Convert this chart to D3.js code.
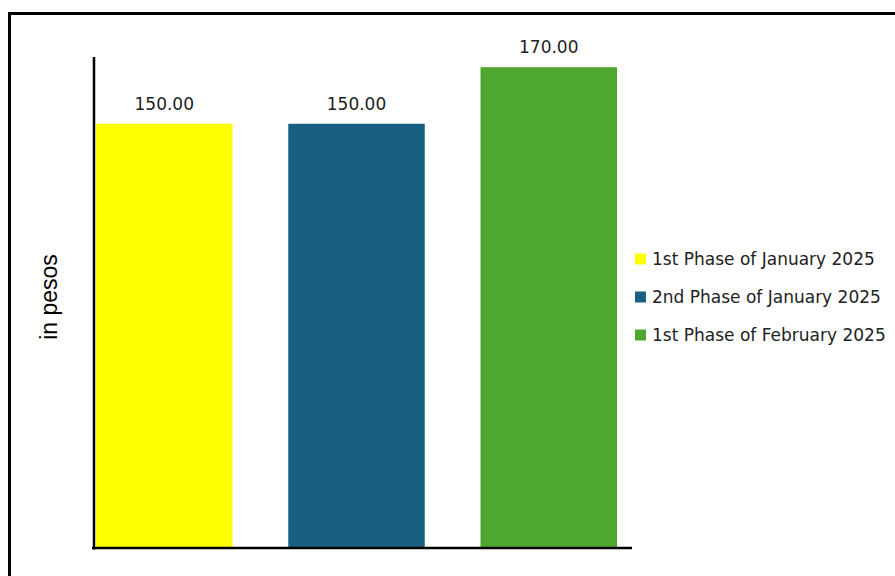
<!DOCTYPE html>
<html><head><meta charset="utf-8">
<script src="https://cdn.jsdelivr.net/npm/d3@7"></script>
<style>body{margin:0;background:#fff}svg{display:block}</style>
</head><body>
<svg id="c" width="895" height="576"></svg>
<script>
const categories = ["1st Phase of January 2025", "2nd Phase of January 2025", "1st Phase of February 2025"];
const values = [150, 150, 170];
const colors = ["#FFFF00", "#186082", "#4EA72E"];
const axisTitle = "in pesos";

const svg = d3.select("#c");
// outer frame (extends past right and bottom edges)
svg.append("rect").attr("x", 9.5).attr("y", 13.5).attr("width", 1000).attr("height", 1000)
  .attr("fill", "none").attr("stroke", "#000").attr("stroke-width", 3);

const x = d3.scaleBand().domain(categories).range([96, 617]).paddingInner(0.29).paddingOuter(0);
const y = d3.scaleLinear().domain([0, 173.6]).range([548, 57]);

svg.selectAll("rect.bar").data(categories).join("rect").attr("class", "bar")
  .attr("x", d => x(d)).attr("width", x.bandwidth())
  .attr("y", (d, i) => y(values[i])).attr("height", (d, i) => y(0) - y(values[i]))
  .attr("fill", (d, i) => colors[i]);

svg.selectAll("text.lbl").data(categories).join("text").attr("class", "lbl")
  .attr("x", d => x(d) + x.bandwidth() / 2).attr("y", (d, i) => y(values[i]) - 14)
  .attr("text-anchor", "middle").attr("font-family", "DejaVu Sans, sans-serif").attr("font-size", 17)
  .attr("fill", "#222").text((d, i) => d3.format(".2f")(values[i]));

// axes lines
svg.append("line").attr("x1", 94).attr("x2", 94).attr("y1", 57).attr("y2", 549.5)
  .attr("stroke", "#000").attr("stroke-width", 2.5);
svg.append("line").attr("x1", 92).attr("x2", 632).attr("y1", y(0)).attr("y2", y(0))
  .attr("stroke", "#000").attr("stroke-width", 2.5);

svg.append("text").attr("transform", "translate(57,297) rotate(-90)")
  .attr("text-anchor", "middle").attr("font-family", "Liberation Sans, Arial, sans-serif").attr("font-size", 23)
  .attr("fill", "#000").text(axisTitle);

const lg = svg.append("g");
const items = lg.selectAll("g").data(categories).join("g")
  .attr("transform", (d, i) => `translate(635,${259 + i * 38})`);
items.append("rect").attr("x", 0).attr("y", -5.5).attr("width", 11).attr("height", 11)
  .attr("fill", (d, i) => colors[i]);
items.append("text").attr("x", 17).attr("y", 6).attr("font-family", "DejaVu Sans, sans-serif")
  .attr("font-size", 17).attr("fill", "#222").text(d => d);
</script>
</body></html>
